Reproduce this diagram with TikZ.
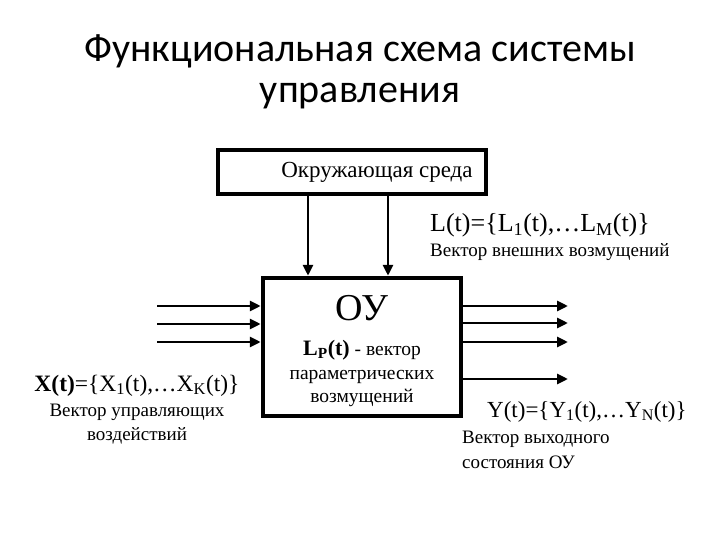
\documentclass[tikz,border=0pt]{standalone}
\usepackage{fontspec}
\setmainfont{Liberation Serif}
\newfontfamily\titlefont{Carlito}
\usetikzlibrary{arrows.meta,positioning}

\tikzset{
  blk/.style={draw, line width=4.5pt, inner sep=0pt},
  sig/.style={line width=2.8pt, -{Triangle[length=11pt,width=10pt]}},
  ttl/.style={font=\titlefont\fontsize{40}{44}\selectfont, anchor=base},
  lbl/.style={font=\fontsize{19}{22}\selectfont, inner sep=0pt},
  vec/.style={font=\fontsize{23.5}{28}\selectfont, inner sep=0pt},
}

\begin{document}
\begin{tikzpicture}[x=1pt,y=-1pt]
  \useasboundingbox (0,0) rectangle (720,540);
  % title
  \node[ttl] (title1) at (360,62) {Функциональная схема системы};
  \node[ttl] (title2) at (360,103) {управления};
  % environment and plant
  \node[blk, minimum width=268pt, minimum height=44pt] (env) at (352,172) {};
  \node[font=\fontsize{23}{26}\selectfont, inner sep=0pt] (envtxt) at (377,172) {Окружающая среда};
  \node[blk, minimum width=198pt, minimum height=138pt] (ou) at (362,347) {};
  \node[font=\fontsize{38}{40}\selectfont, inner sep=0pt] (outxt) at (362,308) {ОУ};
  \node[lbl, anchor=base, font=\fontsize{19.5}{22}\selectfont] (lp) at (362,355)
    {\textbf{\fontsize{22}{24}\selectfont L\textsubscript{P}(t)} - вектор};
  \node[lbl, anchor=base, font=\fontsize{19.5}{22}\selectfont] (lp2) at (362,379) {параметрических};
  \node[lbl, anchor=base, font=\fontsize{19.5}{22}\selectfont] (lp3) at (362,402) {возмущений};
  % disturbances
  \coordinate (e1) at (308,0);
  \coordinate (e2) at (388,0);
  \foreach \i in {1,2}
    \draw[sig] (env.south -| e\i) -- (ou.north -| e\i);
  \node[vec, anchor=base west, font=\fontsize{26}{30}\selectfont] (lvec) at (430,232)
    {L(t)=\{L\textsubscript{1}(t),\dots L\textsubscript{M}(t)\}};
  \node[lbl, anchor=base west] (ltxt) at (430,256) {Вектор внешних возмущений};
  % inputs
  \foreach \y [count=\i] in {306,324,342} {
    \coordinate (in\i) at (157,\y);
    \draw[sig] (in\i) -- (in\i -| ou.west);
  }
  \node[vec, anchor=base] (xvec) at (137,391) {\textbf{X(t)}=\{X\textsubscript{1}(t),\dots X\textsubscript{K}(t)\}};
  \node[lbl, anchor=base] (xtxt) at (137,416) {Вектор управляющих};
  \node[lbl, anchor=base] (xtxt2) at (137,440) {воздействий};
  % outputs
  \foreach \y [count=\i] in {306,323,342,379} {
    \coordinate (out\i) at (568,\y);
    \draw[sig] (out\i -| ou.east) -- (out\i);
  }
  \node[vec, anchor=base west, font=\fontsize{23}{28}\selectfont] (yvec) at (487,417)
    {Y(t)=\{Y\textsubscript{1}(t),\dots Y\textsubscript{N}(t)\}};
  \node[lbl, anchor=base west] (ytxt) at (462,443) {Вектор выходного};
  \node[lbl, anchor=base west] (ytxt2) at (462,468) {состояния ОУ};
\end{tikzpicture}
\end{document}
